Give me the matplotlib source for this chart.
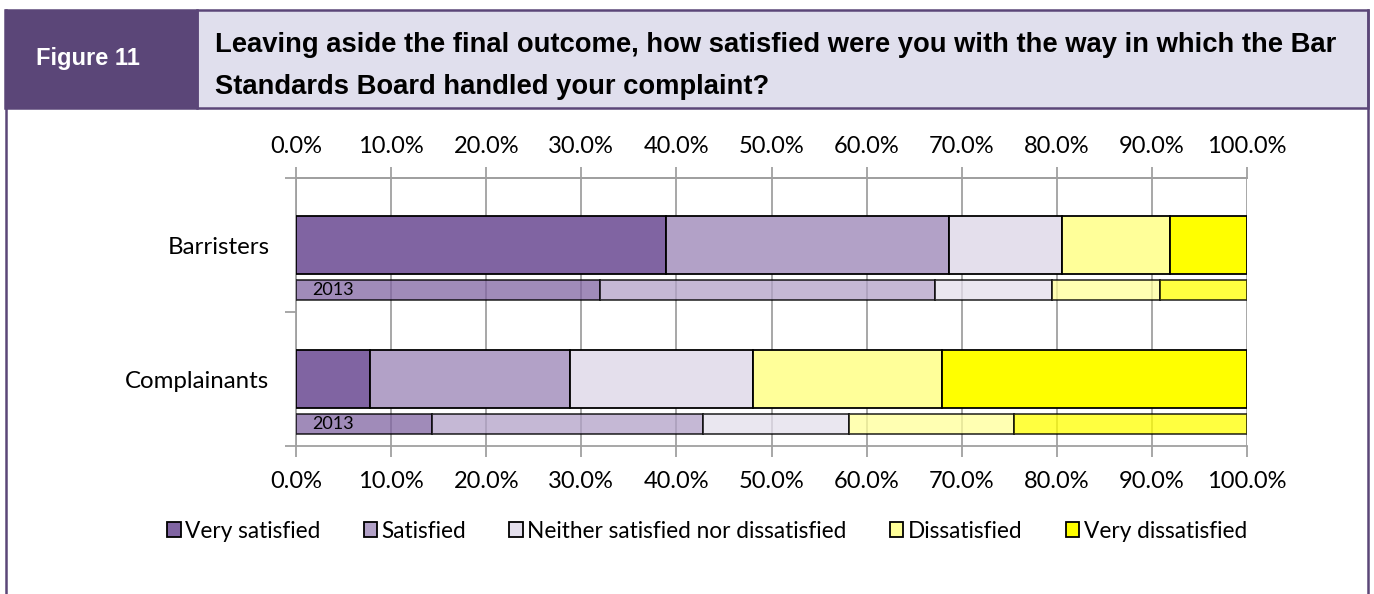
import numpy as np
import matplotlib
matplotlib.use("Agg")
import matplotlib.pyplot as plt
from matplotlib.patches import Rectangle, Patch
from matplotlib.lines import Line2D

#%% Data (percent of respondents)

groups = ["Complainants", "Barristers"]
levels = ["Very satisfied", "Satisfied", "Neither satisfied nor dissatisfied",
          "Dissatisfied", "Very dissatisfied"]

# current survey, order: Complainants, Barristers
very_satisfied = [7.8, 38.9]
satisfied = [21.0, 29.8]
neither = [19.3, 11.8]
dissatisfied = [19.8, 11.4]
very_dissatisfied = [32.1, 8.1]

# 2013 survey
very_satisfied_2013 = [14.3, 32.0]
satisfied_2013 = [28.5, 35.2]
neither_2013 = [15.4, 12.3]
dissatisfied_2013 = [17.3, 11.4]
very_dissatisfied_2013 = [24.5, 9.1]

xtick_vals = [0, 10, 20, 30, 40, 50, 60, 70, 80, 90, 100]
xtick_labels = ["0.0%", "10.0%", "20.0%", "30.0%", "40.0%", "50.0%",
                "60.0%", "70.0%", "80.0%", "90.0%", "100.0%"]

colors = ["#8064a2", "#b2a1c7", "#e4dfec", "#ffff99", "#ffff00"]
purple = "#5b4678"
grid_grey = "#a0a0a0"
chart_font = "Lato"

#%% Figure

W, H = 1374, 594
fig = plt.figure(figsize=(W / 100, H / 100), dpi=100)

def fx(px):
    return px / W

def fy(py):
    return 1 - py / H

# header boxes
fig.patches.append(Rectangle((fx(197), fy(108)), fx(1368 - 197), (108 - 10) / H,
                             transform=fig.transFigure, facecolor="#e0dfed",
                             edgecolor=purple, linewidth=1.8, zorder=1))
fig.patches.append(Rectangle((fx(5), fy(108)), fx(197 - 5), (108 - 10) / H,
                             transform=fig.transFigure, facecolor=purple,
                             edgecolor=purple, linewidth=1.8, zorder=2))
# outer frame sides
fig.lines.append(Line2D([fx(6), fx(6)], [fy(10), 0], transform=fig.transFigure,
                        color=purple, linewidth=1.8))
fig.lines.append(Line2D([fx(1368), fx(1368)], [fy(10), 0], transform=fig.transFigure,
                        color=purple, linewidth=1.8))

fig.text(fx(36), fy(59), "Figure 11", color="white", fontsize=17,
         fontweight="bold", family="Liberation Sans", va="center", ha="left")
fig.text(fx(215), fy(45),
         "Leaving aside the final outcome, how satisfied were you with the way in which the Bar",
         fontsize=19.7, fontweight="bold", family="Liberation Sans", va="center", ha="left")
fig.text(fx(215), fy(87), "Standards Board handled your complaint?",
         fontsize=19.7, fontweight="bold", family="Liberation Sans", va="center", ha="left")

#%% Chart

ax = fig.add_axes([fx(296), fy(446), fx(1247 - 296), (446 - 178) / H])

y = np.arange(len(groups))
main_series = [very_satisfied, satisfied, neither, dissatisfied, very_dissatisfied]
old_series = [very_satisfied_2013, satisfied_2013, neither_2013,
              dissatisfied_2013, very_dissatisfied_2013]

left = np.zeros(len(groups))
for vals, c, lab in zip(main_series, colors, levels):
    ax.barh(y + 0.5, vals, left=left, height=0.43, color=c, edgecolor="black",
            linewidth=1.3, label=lab, zorder=3)
    left += np.array(vals)

left = np.zeros(len(groups))
for vals, c in zip(old_series, colors):
    ax.barh(y + 0.165, vals, left=left, height=0.145, color=c, alpha=0.75,
            edgecolor="black", linewidth=1.3, zorder=3)
    left += np.array(vals)

for yi in y:
    ax.text(1.7, yi + 0.165, "2013", fontsize=13, family=chart_font,
            va="center", ha="left", zorder=4)

ax.set_xlim(0, 100)
ax.set_ylim(0, 2)
ax.set_xticks(xtick_vals)
ax.set_xticklabels(xtick_labels)
ax.set_yticks([0, 1, 2])
ax.set_yticklabels([])
ax.set_yticks([0.5, 1.5], minor=True)
ax.set_yticklabels(groups, minor=True)

ax.tick_params(axis="x", top=False, bottom=True, labelbottom=True,
               length=8, width=1.3, color=grid_grey, pad=10, labelsize=17)
ax.tick_params(axis="y", which="major", length=8, width=1.3, color=grid_grey)
ax.tick_params(axis="y", which="minor", length=0, pad=19, labelsize=17.3)
for lbl in ax.get_xticklabels() + ax.get_yticklabels(minor=True):
    lbl.set_family(chart_font)

# top axis with same percentages
top = ax.secondary_xaxis("top")
top.set_xticks(xtick_vals)
top.set_xticklabels(xtick_labels)
top.tick_params(length=8, width=1.3, color=grid_grey, pad=7, labelsize=17)
top.spines["top"].set_color(grid_grey)
top.spines["top"].set_linewidth(1.3)
for lbl in top.get_xticklabels():
    lbl.set_family(chart_font)

ax.grid(axis="x", color=grid_grey, linewidth=1.3)
ax.set_axisbelow(True)
for side in ["top", "bottom", "left"]:
    ax.spines[side].set_color(grid_grey)
    ax.spines[side].set_linewidth(1.3)
ax.spines["right"].set_visible(False)

handles = [Patch(facecolor=c, edgecolor="black", linewidth=1.3) for c in colors]
fig.legend(handles, levels, loc="center", bbox_to_anchor=(fx(707), fy(531)),
           ncol=5, frameon=False, handlelength=0.6, handleheight=0.6,
           handletextpad=0.2, columnspacing=1.9,
           prop={"family": chart_font, "size": 16.3})

fig.savefig("out.png", dpi=100)
